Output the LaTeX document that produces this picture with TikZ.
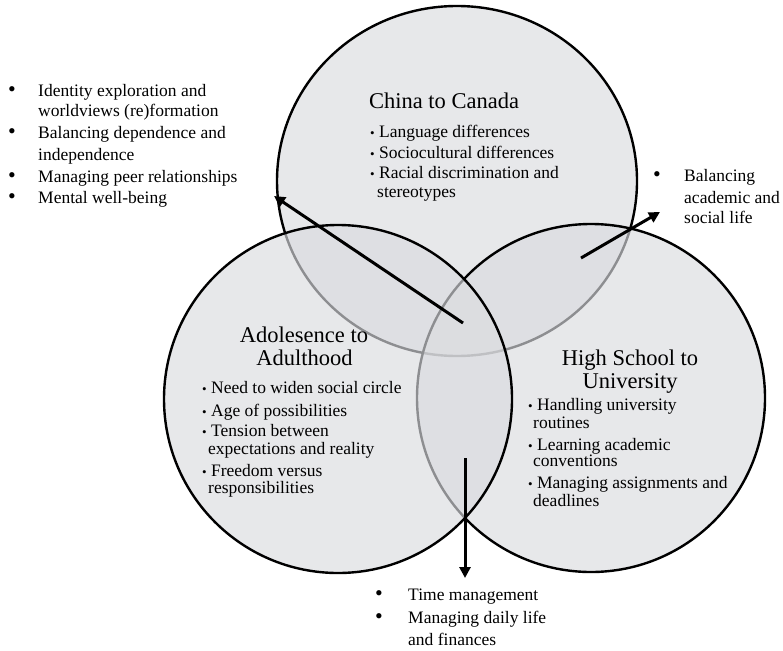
\documentclass[tikz,border=0pt]{standalone}
\usepackage{fontspec}
\setmainfont{Liberation Serif}
\usetikzlibrary{arrows.meta}
\definecolor{ringfill}{RGB}{218,219,223}
\begin{document}
\begin{tikzpicture}[x=1pt,y=-1pt,
  ring/.style={draw=black, line width=2.4pt, fill=ringfill, fill opacity=0.65},
  txt/.style={font=\fontsize{17.5}{21}\selectfont, inner sep=0pt, anchor=base west},
  ttl/.style={font=\fontsize{22.5}{26}\selectfont, inner sep=0pt, anchor=base},
  dot/.style={font=\fontsize{22}{22}\selectfont, inner sep=0pt, anchor=base},
  link/.style={line width=3pt, -{Triangle[length=11pt,width=11pt]}}]
\useasboundingbox (0,0) rectangle (783,650);

% the three transitions
\coordinate (cT) at (457,181);
\coordinate (cR) at (591,398);
\coordinate (cL) at (338,399);
\draw[ring] (cT) ellipse [x radius=180pt, y radius=175pt];
\draw[ring] (cR) circle [radius=174pt];
\draw[ring] (cL) circle [radius=174pt];

% China to Canada
\node[ttl] (tT) at (444,108) {China to Canada};
\foreach \ly/\lt [count=\i] in {137.3/Language differences, 158/Sociocultural differences, 178/Racial discrimination and}
  \node[txt] (tT\i) at (370,\ly) {{\fontsize{13}{13}\selectfont\textbullet}\ \lt};
\node[txt] (tT4) at (377,197) {stereotypes};

% Adolescence to Adulthood
\node[ttl] (tL) at (304,342.7) {Adolesence to};
\node[ttl] (tLb) at (304.5,365) {Adulthood};
\foreach \ly/\lt [count=\i] in {393.3/Need to widen social circle, 416/Age of possibilities, 436.7/Tension between, 476.7/Freedom versus}
  \node[txt] (tL\i) at (202,\ly) {{\fontsize{13}{13}\selectfont\textbullet}\ \lt};
\node[txt] (tL5) at (208,454) {expectations and reality};
\node[txt] (tL6) at (208,493.3) {responsibilities};

% High School to University
\node[ttl] (tR) at (630,365) {High School to};
\node[ttl] (tRb) at (630,388) {University};
\foreach \ly/\lt [count=\i] in {410/Handling university, 450/Learning academic, 488/Managing assignments and}
  \node[txt] (tR\i) at (528,\ly) {{\fontsize{13}{13}\selectfont\textbullet}\ \lt};
\foreach \ly/\lt [count=\i from 4] in {428/routines, 466.7/conventions, 506.7/deadlines}
  \node[txt] (tR\i) at (533,\ly) {\lt};

% overlap of all three (left list)
\foreach \ly/\lt [count=\i] in {96/Identity exploration and, 117/worldviews (re)formation, 138/Balancing dependence and, 160/independence, 182/Managing peer relationships, 203.5/Mental well-being}
  \node[txt] (oL\i) at (38,\ly) {\lt};
\foreach \ly [count=\i] in {96,138,182,203.5}
  \node[dot] (bL\i) at (12,\ly) {\textbullet};

% China/High School overlap (right list)
\foreach \ly/\lt [count=\i] in {181.7/Balancing, 203/academic and, 223/social life}
  \node[txt] (oR\i) at (684,\ly) {\lt};
\node[dot] (bR1) at (657,181.7) {\textbullet};

% Adolescence/High School overlap (bottom list)
\foreach \ly/\lt [count=\i] in {600/Time management, 623.3/Managing daily life, 645/and finances}
  \node[txt] (oB\i) at (408,\ly) {\lt};
\node[dot] (bB1) at (379,600) {\textbullet};
\node[dot] (bB2) at (379,623.3) {\textbullet};

% pointers out of the overlaps
\coordinate (a1s) at (463,323); \coordinate (a1e) at (274,196);
\coordinate (a2s) at (581,258); \coordinate (a2e) at (660,212);
\coordinate (a3s) at (465,458); \coordinate (a3e) at (465,578);
\draw[link] (a1s) -- (a1e);
\draw[link] (a2s) -- (a2e);
\draw[link] (a3s) -- (a3e);
\end{tikzpicture}
\end{document}
